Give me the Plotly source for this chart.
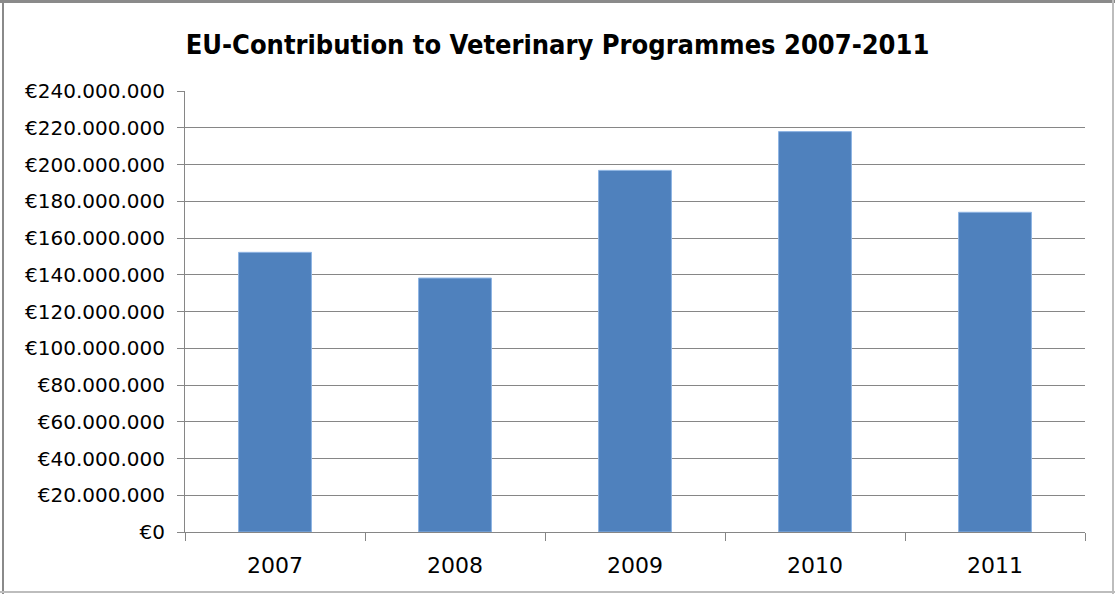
import plotly.graph_objects as go

years = ["2007", "2008", "2009", "2010", "2011"]
contribution_eur = [152_200_000, 138_200_000, 196_800_000, 217_900_000, 174_000_000]
y_ticks = list(range(0, 240_000_001, 20_000_000))
y_tick_labels = ["€0"] + ["€{:,}".format(v).replace(",", ".") for v in y_ticks[1:]]

W, H = 1115, 594
L, R, T, B = 185, 30, 91, 62
pw, ph = W - L - R, H - T - B


def px(x):
    return (x - L) / pw


def py(y):
    return 1 - (y - T) / ph


fig = go.Figure(
    go.Bar(
        x=years,
        y=contribution_eur,
        marker=dict(color="#4F81BD", line=dict(color="#8EB4E3", width=1)),
        width=0.405,
    )
)

# outer chart frame: darker top/left, lighter bottom/right
frame = [
    dict(x0=px(0), x1=px(W), y0=py(1.5), y1=py(1.5), color="#8a8a8a", w=3),
    dict(x0=px(3), x1=px(3), y0=py(0), y1=py(H), color="#8a8a8a", w=2),
    dict(x0=px(W - 2), x1=px(W - 2), y0=py(0), y1=py(H), color="#bdbdbd", w=2),
    dict(x0=px(0), x1=px(W), y0=py(H - 2), y1=py(H - 2), color="#bdbdbd", w=2),
]
shapes = [
    dict(type="line", xref="paper", yref="paper", x0=f["x0"], x1=f["x1"],
         y0=f["y0"], y1=f["y1"], line=dict(color=f["color"], width=f["w"]))
    for f in frame
]

fig.update_layout(
    width=W,
    height=H,
    margin=dict(l=L, r=R, t=T, b=B),
    paper_bgcolor="white",
    plot_bgcolor="white",
    showlegend=False,
    shapes=shapes,
    title=dict(
        text="<b>EU-Contribution to Veterinary Programmes 2007-2011</b>",
        x=0.5, xref="container", xanchor="center",
        y=1 - 45 / H, yref="container", yanchor="middle",
        font=dict(family="DejaVu Sans Condensed, Liberation Sans Narrow, sans-serif", size=27, color="#000000"),
    ),
    font=dict(family="DejaVu Sans, Verdana, sans-serif", color="#000000"),
)

fig.update_xaxes(
    type="category",
    showline=True, linecolor="#868686", linewidth=1,
    ticks="outside", ticklen=8, tickcolor="#868686", tickson="boundaries",
    showgrid=False,
    tickfont=dict(size=22, family="DejaVu Sans, Verdana, sans-serif"),
    ticklabelstandoff=14,
)
fig.update_yaxes(
    range=[0, 240_000_000],
    tickvals=y_ticks, ticktext=y_tick_labels,
    showline=True, linecolor="#868686", linewidth=1,
    showgrid=True, gridcolor="#868686", gridwidth=1,
    ticks="outside", ticklen=7, tickcolor="#868686",
    tickfont=dict(size=20, family="DejaVu Sans, Verdana, sans-serif"),
    ticklabelstandoff=8,
    zeroline=False,
)

fig.write_html("out.html")
